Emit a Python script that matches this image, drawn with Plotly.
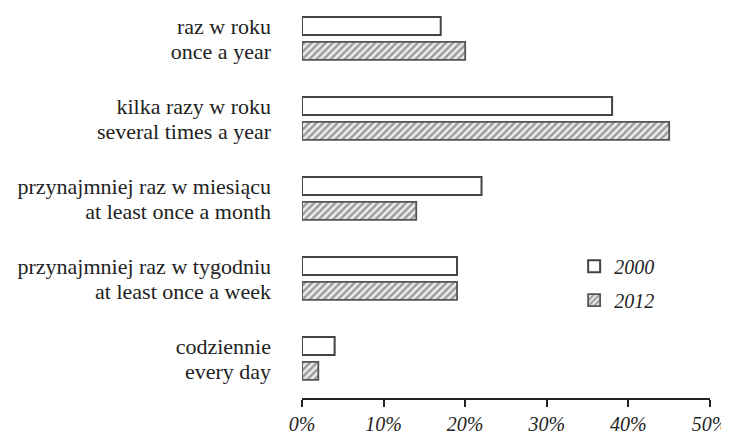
import plotly.graph_objects as go

labels_pl = ["raz w roku", "kilka razy w roku", "przynajmniej raz w miesiącu",
             "przynajmniej raz w tygodniu", "codziennie"]
labels_en = ["once a year", "several times a year", "at least once a month",
             "at least once a week", "every day"]
values_2000 = [17, 38, 22, 19, 4]
values_2012 = [20, 45, 14, 19, 2]
x_ticks = [0, 10, 20, 30, 40, 50]
x_ticktext = ["0%", "10%", "20%", "30%", "40%", "50%"]

FONT = "'Liberation Serif', 'Times New Roman', 'DejaVu Serif', serif"
off = 0.156
pos_2000 = [i - off for i in range(len(labels_pl))]
pos_2012 = [i + off for i in range(len(labels_pl))]

fig = go.Figure()
fig.add_trace(go.Bar(
    y=pos_2000, x=values_2000, orientation="h", name="2000", width=0.225,
    marker=dict(color="white", line=dict(color="#444444", width=2)),
    legendgroup="a",
))
fig.add_trace(go.Bar(
    y=pos_2012, x=values_2012, orientation="h", name="2012", width=0.225,
    marker=dict(color="#e0e0e0", line=dict(color="#555555", width=1.8),
                pattern=dict(shape="/", fgcolor="#4a4a4a", bgcolor="#eeeeee",
                             size=5, solidity=0.5)),
    legendgroup="b",
))

tickvals = []
ticktext = []
for i in range(len(labels_pl)):
    tickvals += [pos_2000[i], pos_2012[i]]
    ticktext += [labels_pl[i], labels_en[i]]

# page body has an 8px margin; size figure so it fills the 729x439 window
fig.update_layout(
    width=721, height=431,
    margin=dict(l=294, r=19, t=2, b=41),
    paper_bgcolor="white", plot_bgcolor="white",
    font=dict(family=FONT, size=20, color="#222222"),
    barmode="overlay",
    showlegend=True,
    legend=dict(x=0.667, y=0.39, xanchor="left", yanchor="top",
                font=dict(family=FONT, size=20, style="italic", color="#222222"),
                tracegroupgap=5, bgcolor="rgba(0,0,0,0)"),
    xaxis=dict(range=[0, 50], tickvals=x_ticks, ticktext=x_ticktext,
               showgrid=False, zeroline=False, showline=True, automargin=False,
               linecolor="#222222", linewidth=1.5,
               ticks="outside", ticklen=7, tickwidth=1.5, tickcolor="#222222",
               tickfont=dict(family=FONT, size=20, style="italic", color="#222222")),
    yaxis=dict(range=[4.494, -0.356], tickvals=tickvals, ticktext=ticktext,
               showgrid=False, zeroline=False, showline=False, automargin=False,
               ticks="", ticklabelstandoff=30,
               tickfont=dict(family=FONT, size=22, color="#222222")),
)

fig.write_html("out.html")
